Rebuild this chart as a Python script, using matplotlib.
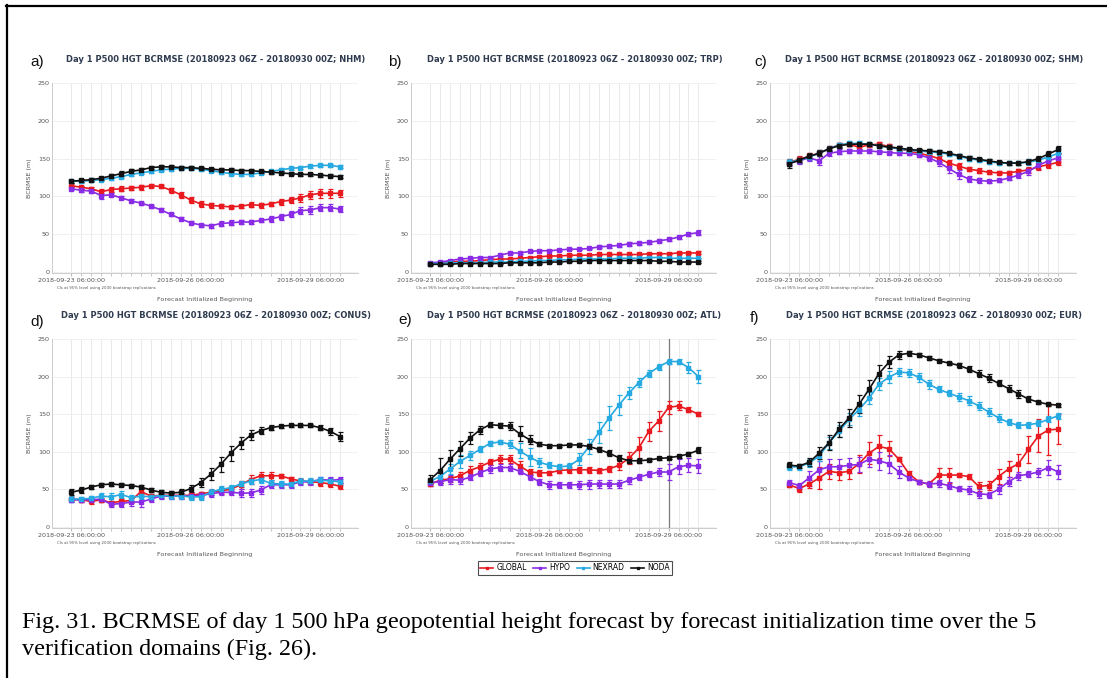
import matplotlib
matplotlib.use("Agg")
import matplotlib.pyplot as plt
import matplotlib.dates as mdates
from matplotlib.lines import Line2D
import numpy as np
import pandas as pd

# forecast initialization times, every 6 h
times = pd.date_range("2018-09-23 06:00", "2018-09-30 00:00", freq="6h")
tick_idx = [0, 12, 24]

domains = ["NHM", "TRP", "SHM", "CONUS", "ATL", "EUR"]
letters = ["a)", "b)", "c)", "d)", "e)", "f)"]
experiments = ["GLOBAL", "HYPO", "NEXRAD", "NODA"]
colors = ["#e8191f", "#8a2be6", "#27a9e1", "#111111"]

# ---- NHM
nhm_global = [114,112,110,106,109,110,111,112,114,113,108,102,95,90,88,87,86,87,89,88,90,93,95,98,102,104,104,104]
nhm_hypo = [110,108,107,101,102,98,94,91,87,82,76,70,65,62,61,64,65,66,66,68,70,73,76,81,82,85,85,83]
nhm_nexrad = [120,120,121,122,124,126,129,131,133,135,136,137,137,136,134,132,130,129,129,131,133,135,137,138,140,141,141,139]
nhm_noda = [120,121,122,124,127,130,133,135,138,139,139,138,138,137,136,135,135,134,134,133,132,131,130,129,129,128,127,126]
nhm_global_err = [2,2,2,4,3,3,3,3,2,2,3,4,4,4,3,3,2,2,3,3,3,4,4,5,5,6,6,5]
nhm_hypo_err = [2,2,2,4,2,2,2,2,2,2,2,2,2,2,3,3,3,2,2,2,4,4,4,5,5,5,5,4]
nhm_nexrad_err = [2,2,2,2,2,2,2,2,2,2,2,2,2,2,2,2,2,2,2,2,2,2,2,2,2,2,2,2]
nhm_noda_err = [2,2,2,2,3,3,3,3,2,2,2,2,2,2,2,2,2,2,2,2,2,2,2,2,2,2,2,2]

# ---- TRP
trp_global = [11,12,13,14,14,15,16,17,17,18,19,20,21,21,22,22,22,23,23,23,23,23,24,24,24,25,25,25]
trp_hypo = [12,13,15,17,18,19,19,22,25,25,27,28,28,29,30,30,31,33,34,35,37,38,39,41,43,46,50,52]
trp_nexrad = [11,11,12,12,12,12,13,13,13,14,14,15,15,16,16,17,17,17,17,18,18,18,19,19,18,18,18,18]
trp_noda = [10,10,10,11,11,11,11,11,12,12,12,12,13,13,14,14,15,15,15,15,15,15,15,14,14,13,13,13]
trp_global_err = [1,1,1,1,1,1,1,1,1,1,1,1,1,1,1,1,1,1,1,1,1,1,1,1,1,1,1,2]
trp_hypo_err = [1,1,1,1,1,1,1,1,1,1,1,1,1,1,1,1,1,2,2,2,3,2,2,2,2,2,2,3]
trp_nexrad_err = [1,1,1,1,1,1,1,1,1,1,1,1,1,1,1,1,1,1,1,1,1,1,1,1,1,1,1,1]
trp_noda_err = [1,1,1,1,1,1,1,1,1,1,1,1,1,1,1,1,1,1,1,1,1,1,1,1,1,1,1,1]

# ---- SHM
shm_global = [145,149,153,157,163,168,169,165,168,169,166,163,160,157,154,150,144,140,136,134,132,131,131,133,135,139,142,145]
shm_hypo = [144,147,151,147,157,159,160,160,160,159,158,157,157,155,151,145,137,129,123,121,120,121,124,128,133,141,147,151]
shm_nexrad = [145,148,152,157,163,168,170,170,169,167,165,163,161,160,159,158,156,153,150,148,146,144,144,144,145,148,152,157]
shm_noda = [143,148,153,157,163,167,169,169,169,167,165,164,162,161,160,159,157,154,151,149,147,145,144,144,146,150,156,162]
shm_global_err = [4,4,4,4,3,3,3,3,3,3,3,3,3,3,3,4,4,4,3,3,2,2,2,3,4,4,5,4]
shm_hypo_err = [4,4,4,6,4,3,3,2,2,2,2,2,2,3,4,5,6,6,4,3,2,2,3,4,5,5,5,5]
shm_nexrad_err = [4,4,4,4,3,3,3,3,3,3,3,3,3,3,3,3,3,3,3,3,3,3,3,3,4,4,5,5]
shm_noda_err = [5,4,4,4,3,3,2,2,2,2,2,2,2,2,2,2,2,2,2,2,2,2,2,2,3,4,4,5]

# ---- CONUS
conus_global = [37,36,34,36,32,34,35,47,41,42,42,42,42,44,46,48,50,56,63,68,68,68,64,61,60,59,57,54]
conus_hypo = [36,36,36,37,30,31,33,33,37,41,41,41,41,42,44,46,46,45,45,49,56,56,56,60,60,63,62,63]
conus_nexrad = [37,37,38,41,40,43,39,41,40,42,41,41,40,40,46,50,52,57,61,63,58,57,57,61,61,62,61,60]
conus_noda = [46,49,53,56,57,56,55,53,49,46,45,46,51,59,70,83,98,111,122,128,132,134,135,135,135,132,127,120]
conus_global_err = [3,3,3,3,3,3,3,3,3,3,3,3,3,3,3,4,4,5,6,5,5,3,3,3,3,4,4,4]
conus_hypo_err = [3,3,3,4,3,4,5,7,4,4,4,4,4,4,4,4,4,5,5,5,4,4,4,4,4,4,4,4]
conus_nexrad_err = [4,3,3,4,5,5,4,4,4,4,4,4,4,4,4,4,4,4,4,4,4,4,4,4,4,4,4,4]
conus_noda_err = [4,4,3,2,2,2,2,3,3,3,3,4,5,6,8,10,10,8,7,5,3,2,2,2,2,3,5,6]

# ---- ATL
atl_global = [57,62,64,68,75,80,86,90,90,81,73,72,72,75,76,76,76,75,77,82,91,105,127,141,159,161,156,150]
atl_hypo = [59,60,63,62,66,72,77,79,79,74,67,60,56,56,56,56,57,57,57,57,62,66,70,73,73,80,82,81]
atl_nexrad = [61,67,77,87,95,103,111,113,110,101,93,86,82,80,81,90,107,126,145,162,178,192,204,213,220,220,212,200]
atl_noda = [63,75,90,104,118,129,136,135,134,124,116,110,108,108,109,109,107,103,98,92,88,88,89,91,92,94,97,102]
atl_global_err = [3,3,4,5,6,5,4,5,5,6,4,4,3,3,4,4,4,3,4,6,8,15,13,13,9,6,3,3]
atl_hypo_err = [4,4,6,5,4,4,5,5,4,4,4,4,5,4,4,5,6,5,5,5,5,4,4,5,11,10,9,9]
atl_nexrad_err = [3,5,7,8,6,4,3,3,5,10,12,6,4,3,4,8,10,14,16,13,8,6,5,4,3,3,7,9]
atl_noda_err = [6,16,12,10,8,5,3,3,5,10,6,3,2,2,2,2,3,3,4,4,3,3,2,2,2,2,3,4]

# ---- EUR
eur_global = [56,51,57,65,74,72,74,84,98,107,104,90,71,60,57,69,69,69,67,54,55,67,77,84,103,121,129,130]
eur_hypo = [59,55,65,76,80,80,82,83,90,88,84,73,65,60,57,58,55,51,49,44,43,50,60,68,70,73,79,73]
eur_nexrad = [80,80,85,94,112,127,143,156,171,190,199,206,205,199,190,183,178,173,168,161,153,145,139,135,136,138,143,148]
eur_noda = [82,81,86,98,112,130,145,163,183,204,219,229,231,229,225,221,218,215,210,204,198,191,184,177,170,166,163,162]
eur_global_err = [3,4,5,15,10,10,10,12,15,15,10,3,3,3,3,10,10,3,3,6,6,10,10,13,18,22,33,20]
eur_hypo_err = [4,4,10,12,10,10,10,10,10,12,12,8,3,3,4,5,5,3,5,6,4,6,6,5,4,6,10,9]
eur_nexrad_err = [4,4,5,6,8,8,8,8,8,8,8,5,5,6,6,4,4,5,6,5,5,5,4,4,4,4,4,4]
eur_noda_err = [4,3,5,8,10,10,12,12,12,12,8,5,3,3,3,2,2,3,4,5,5,4,5,5,4,2,2,2]

series = {
    "NHM": ([nhm_global, nhm_hypo, nhm_nexrad, nhm_noda],
            [nhm_global_err, nhm_hypo_err, nhm_nexrad_err, nhm_noda_err]),
    "TRP": ([trp_global, trp_hypo, trp_nexrad, trp_noda],
            [trp_global_err, trp_hypo_err, trp_nexrad_err, trp_noda_err]),
    "SHM": ([shm_global, shm_hypo, shm_nexrad, shm_noda],
            [shm_global_err, shm_hypo_err, shm_nexrad_err, shm_noda_err]),
    "CONUS": ([conus_global, conus_hypo, conus_nexrad, conus_noda],
              [conus_global_err, conus_hypo_err, conus_nexrad_err, conus_noda_err]),
    "ATL": ([atl_global, atl_hypo, atl_nexrad, atl_noda],
            [atl_global_err, atl_hypo_err, atl_nexrad_err, atl_noda_err]),
    "EUR": ([eur_global, eur_hypo, eur_nexrad, eur_noda],
            [eur_global_err, eur_hypo_err, eur_nexrad_err, eur_noda_err]),
}

caption_lines = ["Fig. 31. BCRMSE of day 1 500 hPa geopotential height forecast by forecast "
                 "initialization time over the 5",
                 "verification domains (Fig. 26)."]

W, H = 1107, 678
fig = plt.figure(figsize=(W / 100, H / 100), dpi=100)

# axes boxes in pixels: left, top, right, bottom
boxes = [(52, 83, 358, 273), (411, 83, 716, 273), (770, 83, 1076, 273),
         (52, 339, 358, 528), (411, 339, 716, 528), (770, 339, 1076, 528)]
label_xy = [(37, 62), (395, 62), (761, 62), (37, 322), (405, 320), (755, 318)]

xnum = mdates.date2num(times)
step = xnum[1] - xnum[0]
title_col = "#2f3b4f"
tick_col = "#555555"

for k, dom in enumerate(domains):
    l, t, r, b = boxes[k]
    ax = fig.add_axes([l / W, 1 - b / H, (r - l) / W, (b - t) / H])
    vals, errs = series[dom]
    for name, c, v, e in zip(experiments, colors, vals, errs):
        ax.errorbar(times, v, yerr=e, color=c, lw=1.2, marker="s", ms=2.3,
                    capsize=1.8, elinewidth=0.9, capthick=0.9, label=name)
    if dom == "ATL":
        ax.axvline(times[24], color="#7a7a7a", lw=0.9, zorder=1.5)

    ax.set_xlim(xnum[0] - 1.93 * step, xnum[-1] + 1.77 * step)
    ax.set_ylim(-1.5, 250)
    ax.set_yticks([0, 50, 100, 150, 200, 250])
    ax.set_xticks(xnum[tick_idx])
    ax.set_xticklabels([times[i].strftime("%Y-%m-%d %H:%M:%S") for i in tick_idx])
    ax.set_xticks(xnum, minor=True)
    ax.grid(True, which="minor", axis="x", color="#e6e6e6", lw=0.6)
    ax.grid(True, which="major", axis="x", color="#e6e6e6", lw=0.6)
    ax.grid(True, which="major", axis="y", color="#eeeeee", lw=0.6)
    ax.set_axisbelow(True)
    ax.tick_params(axis="both", labelsize=4.6, colors=tick_col, length=0, pad=1.5)
    ax.tick_params(axis="x", which="major", length=2, color="#bbbbbb")
    ax.tick_params(axis="x", which="minor", length=2, color="#bbbbbb")
    for s in ["top", "right"]:
        ax.spines[s].set_visible(False)
    for s in ["left", "bottom"]:
        ax.spines[s].set_color("#cccccc")
        ax.spines[s].set_linewidth(0.7)

    ax.set_ylabel("BCRMSE (m)", fontsize=4.6, color=tick_col)
    ax.yaxis.set_label_coords(-0.065, 0.5)
    ax.set_xlabel("Forecast Initialized Beginning", fontsize=4.6, color=tick_col)
    ax.xaxis.set_label_coords(0.5, -0.127)
    ax.text(0.016, -0.08, "CIs at 95% level using 2000 bootstrap replications",
            transform=ax.transAxes, fontsize=2.8, color=tick_col, va="center")
    ax.text(0.536, 1.122,
            "Day 1 P500 HGT BCRMSE (20180923 06Z - 20180930 00Z; %s)" % dom,
            transform=ax.transAxes, ha="center", va="center",
            fontsize=6, fontweight="bold", color=title_col)
    lx, ly = label_xy[k]
    fig.text(lx / W, 1 - ly / H, letters[k], ha="center", va="center",
             fontsize=11, family="Liberation Sans", color="#111111")

handles = [Line2D([], [], color=c, lw=1.2, marker="s", ms=1.8) for c in colors]
leg = fig.legend(handles, experiments, loc="center", bbox_to_anchor=(575 / W, 1 - 568 / H),
                 ncol=4, fontsize=5.5, frameon=True, fancybox=False,
                 handlelength=1.7, columnspacing=0.85, handletextpad=0.4,
                 borderpad=0.35)
leg.get_frame().set_edgecolor("#222222")
leg.get_frame().set_linewidth(0.8)

# two-line figure caption
for yb, line in zip([628, 655], caption_lines):
    fig.text(22 / W, 1 - yb / H, line, ha="left", va="baseline", fontsize=17.4,
             family="Liberation Serif", color="black")

# page frame lines (top and left)
fig.add_artist(Line2D([6 / W, 1.0], [1 - 5.5 / H, 1 - 5.5 / H], color="black", lw=1.6))
fig.add_artist(Line2D([6.5 / W, 6.5 / W], [0, 1 - 5 / H], color="black", lw=1.6))

fig.savefig("out.png", dpi=100)
